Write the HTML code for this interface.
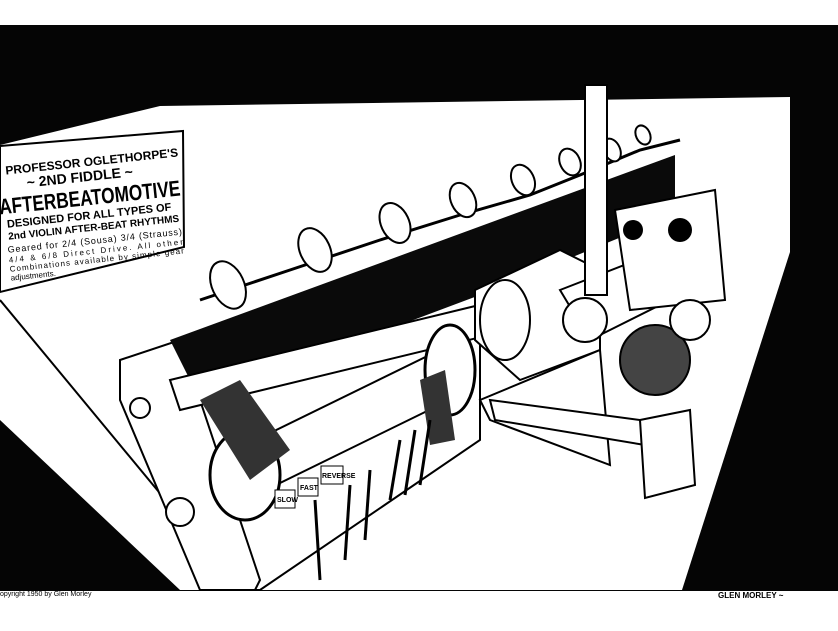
<!DOCTYPE html>
<html><head><style>
html,body{margin:0;padding:0;background:#fff;}
svg{display:block}
text{font-family:"Liberation Sans",sans-serif;fill:#000}
</style></head><body>
<svg width="838" height="631" viewBox="0 0 838 631" xmlns="http://www.w3.org/2000/svg">
<rect width="838" height="631" fill="#fff"/>
<rect x="0" y="25" width="838" height="566" fill="#050505"/>
<!-- room -->
<polygon points="0,145 160,106 790,97 790,252 682,590 180,590 0,420" fill="#fff"/>
<line x1="0" y1="300" x2="240" y2="590" stroke="#000" stroke-width="2"/>
<!-- sign -->
<polygon points="0,146 183,131 184,247 0,292" fill="#fff" stroke="#000" stroke-width="2"/>
<g transform="rotate(-6 90 210)" font-weight="bold">
<text x="10" y="166" font-size="12">PROFESSOR OGLETHORPE'S</text>
<text x="30" y="181" font-size="14">~ 2ND FIDDLE ~</text>
<text x="0" y="205" font-size="22" textLength="182" lengthAdjust="spacingAndGlyphs">AFTERBEATOMOTIVE</text>
<text x="6" y="219" font-size="11">DESIGNED FOR ALL TYPES OF</text>
<text x="6" y="231" font-size="10">2nd VIOLIN AFTER-BEAT RHYTHMS</text>
<text x="4" y="244" font-size="9" font-weight="normal" textLength="175">Geared for 2/4 (Sousa) 3/4 (Strauss)</text>
<text x="4" y="254" font-size="8" font-weight="normal" textLength="175">4/4 &amp; 6/8 Direct Drive. All other</text>
<text x="4" y="263" font-size="8" font-weight="normal" textLength="175">Combinations available by simple gear</text>
<text x="4" y="272" font-size="8" font-weight="normal">adjustments.</text>
</g>
<!-- machine housing -->
<polygon points="150,380 480,290 480,440 260,590 250,590 150,400" fill="#fff" stroke="#000" stroke-width="2"/>
<polygon points="120,360 180,340 260,580 255,590 200,590 120,400" fill="#fff" stroke="#000" stroke-width="2"/>
<!-- dark beam -->
<polygon points="170,340 675,155 675,215 480,295 200,400" fill="#0a0a0a"/>
<!-- violins rod -->
<polyline points="200,300 290,270 380,240 460,215 530,195 580,175 640,150 680,140" fill="none" stroke="#000" stroke-width="3"/>
<g fill="#fff" stroke="#000" stroke-width="2">
<ellipse cx="228" cy="285" rx="16" ry="25" transform="rotate(-25 228 285)"/>
<ellipse cx="315" cy="250" rx="15" ry="23" transform="rotate(-25 315 250)"/>
<ellipse cx="395" cy="223" rx="14" ry="21" transform="rotate(-25 395 223)"/>
<ellipse cx="463" cy="200" rx="12" ry="18" transform="rotate(-25 463 200)"/>
<ellipse cx="523" cy="180" rx="11" ry="16" transform="rotate(-25 523 180)"/>
<ellipse cx="570" cy="162" rx="10" ry="14" transform="rotate(-25 570 162)"/>
<ellipse cx="612" cy="150" rx="8" ry="12" transform="rotate(-25 612 150)"/>
<ellipse cx="643" cy="135" rx="7" ry="10" transform="rotate(-25 643 135)"/>
</g>
<!-- shafts -->
<polygon points="170,380 500,300 510,330 180,410" fill="#fff" stroke="#000" stroke-width="2"/>
<polygon points="215,460 450,345 470,390 235,505" fill="#fff" stroke="#000" stroke-width="2"/>
<ellipse cx="245" cy="475" rx="35" ry="45" fill="#fff" stroke="#000" stroke-width="3"/>
<ellipse cx="450" cy="370" rx="25" ry="45" fill="#fff" stroke="#000" stroke-width="3"/>
<polygon points="200,400 240,380 290,450 250,480" fill="#333"/>
<polygon points="420,380 445,370 455,440 430,445" fill="#333"/>
<!-- engine -->
<polygon points="475,290 560,250 600,270 600,350 520,380 475,340" fill="#fff" stroke="#000" stroke-width="2"/>
<ellipse cx="505" cy="320" rx="25" ry="40" fill="#fff" stroke="#000" stroke-width="2"/>
<polygon points="560,290 650,255 670,300 590,340" fill="#fff" stroke="#000" stroke-width="2"/>
<circle cx="585" cy="320" r="22" fill="#fff" stroke="#000" stroke-width="2"/>
<rect x="585" y="85" width="22" height="210" fill="#fff" stroke="#000" stroke-width="2"/>
<polygon points="615,210 715,190 725,300 630,310" fill="#fff" stroke="#000" stroke-width="2"/>
<circle cx="633" cy="230" r="10" fill="#000"/><circle cx="680" cy="230" r="12" fill="#000"/>
<circle cx="655" cy="360" r="35" fill="#444" stroke="#000" stroke-width="2"/>
<circle cx="690" cy="320" r="20" fill="#fff" stroke="#000" stroke-width="2"/>
<polygon points="480,400 600,350 610,465 490,420" fill="#fff" stroke="#000" stroke-width="2"/>
<polygon points="490,400 640,420 645,445 495,420" fill="#fff" stroke="#000" stroke-width="2"/>
<polygon points="640,420 690,410 695,485 645,498" fill="#fff" stroke="#000" stroke-width="2"/>
<!-- labels / levers -->
<g font-size="7" font-weight="bold">
<rect x="275" y="490" width="20" height="18" fill="#fff" stroke="#000"/><text x="277" y="502">SLOW</text>
<rect x="298" y="478" width="20" height="18" fill="#fff" stroke="#000"/><text x="300" y="490">FAST</text>
<rect x="321" y="466" width="22" height="18" fill="#fff" stroke="#000"/><text x="322" y="478">REVERSE</text>
</g>
<g stroke="#000" stroke-width="3">
<line x1="320" y1="580" x2="315" y2="500"/><line x1="345" y1="560" x2="350" y2="485"/><line x1="365" y1="540" x2="370" y2="470"/>
<line x1="390" y1="500" x2="400" y2="440"/><line x1="405" y1="495" x2="415" y2="430"/><line x1="420" y1="485" x2="430" y2="420"/>
</g>
<circle cx="140" cy="408" r="10" fill="#fff" stroke="#000" stroke-width="2"/>
<circle cx="180" cy="512" r="14" fill="#fff" stroke="#000" stroke-width="2"/>
<text x="0" y="596" font-size="7">opyright 1950 by Glen Morley</text>
<text x="718" y="598" font-size="8" font-weight="bold">GLEN MORLEY ~</text>
</svg>
</body></html>
